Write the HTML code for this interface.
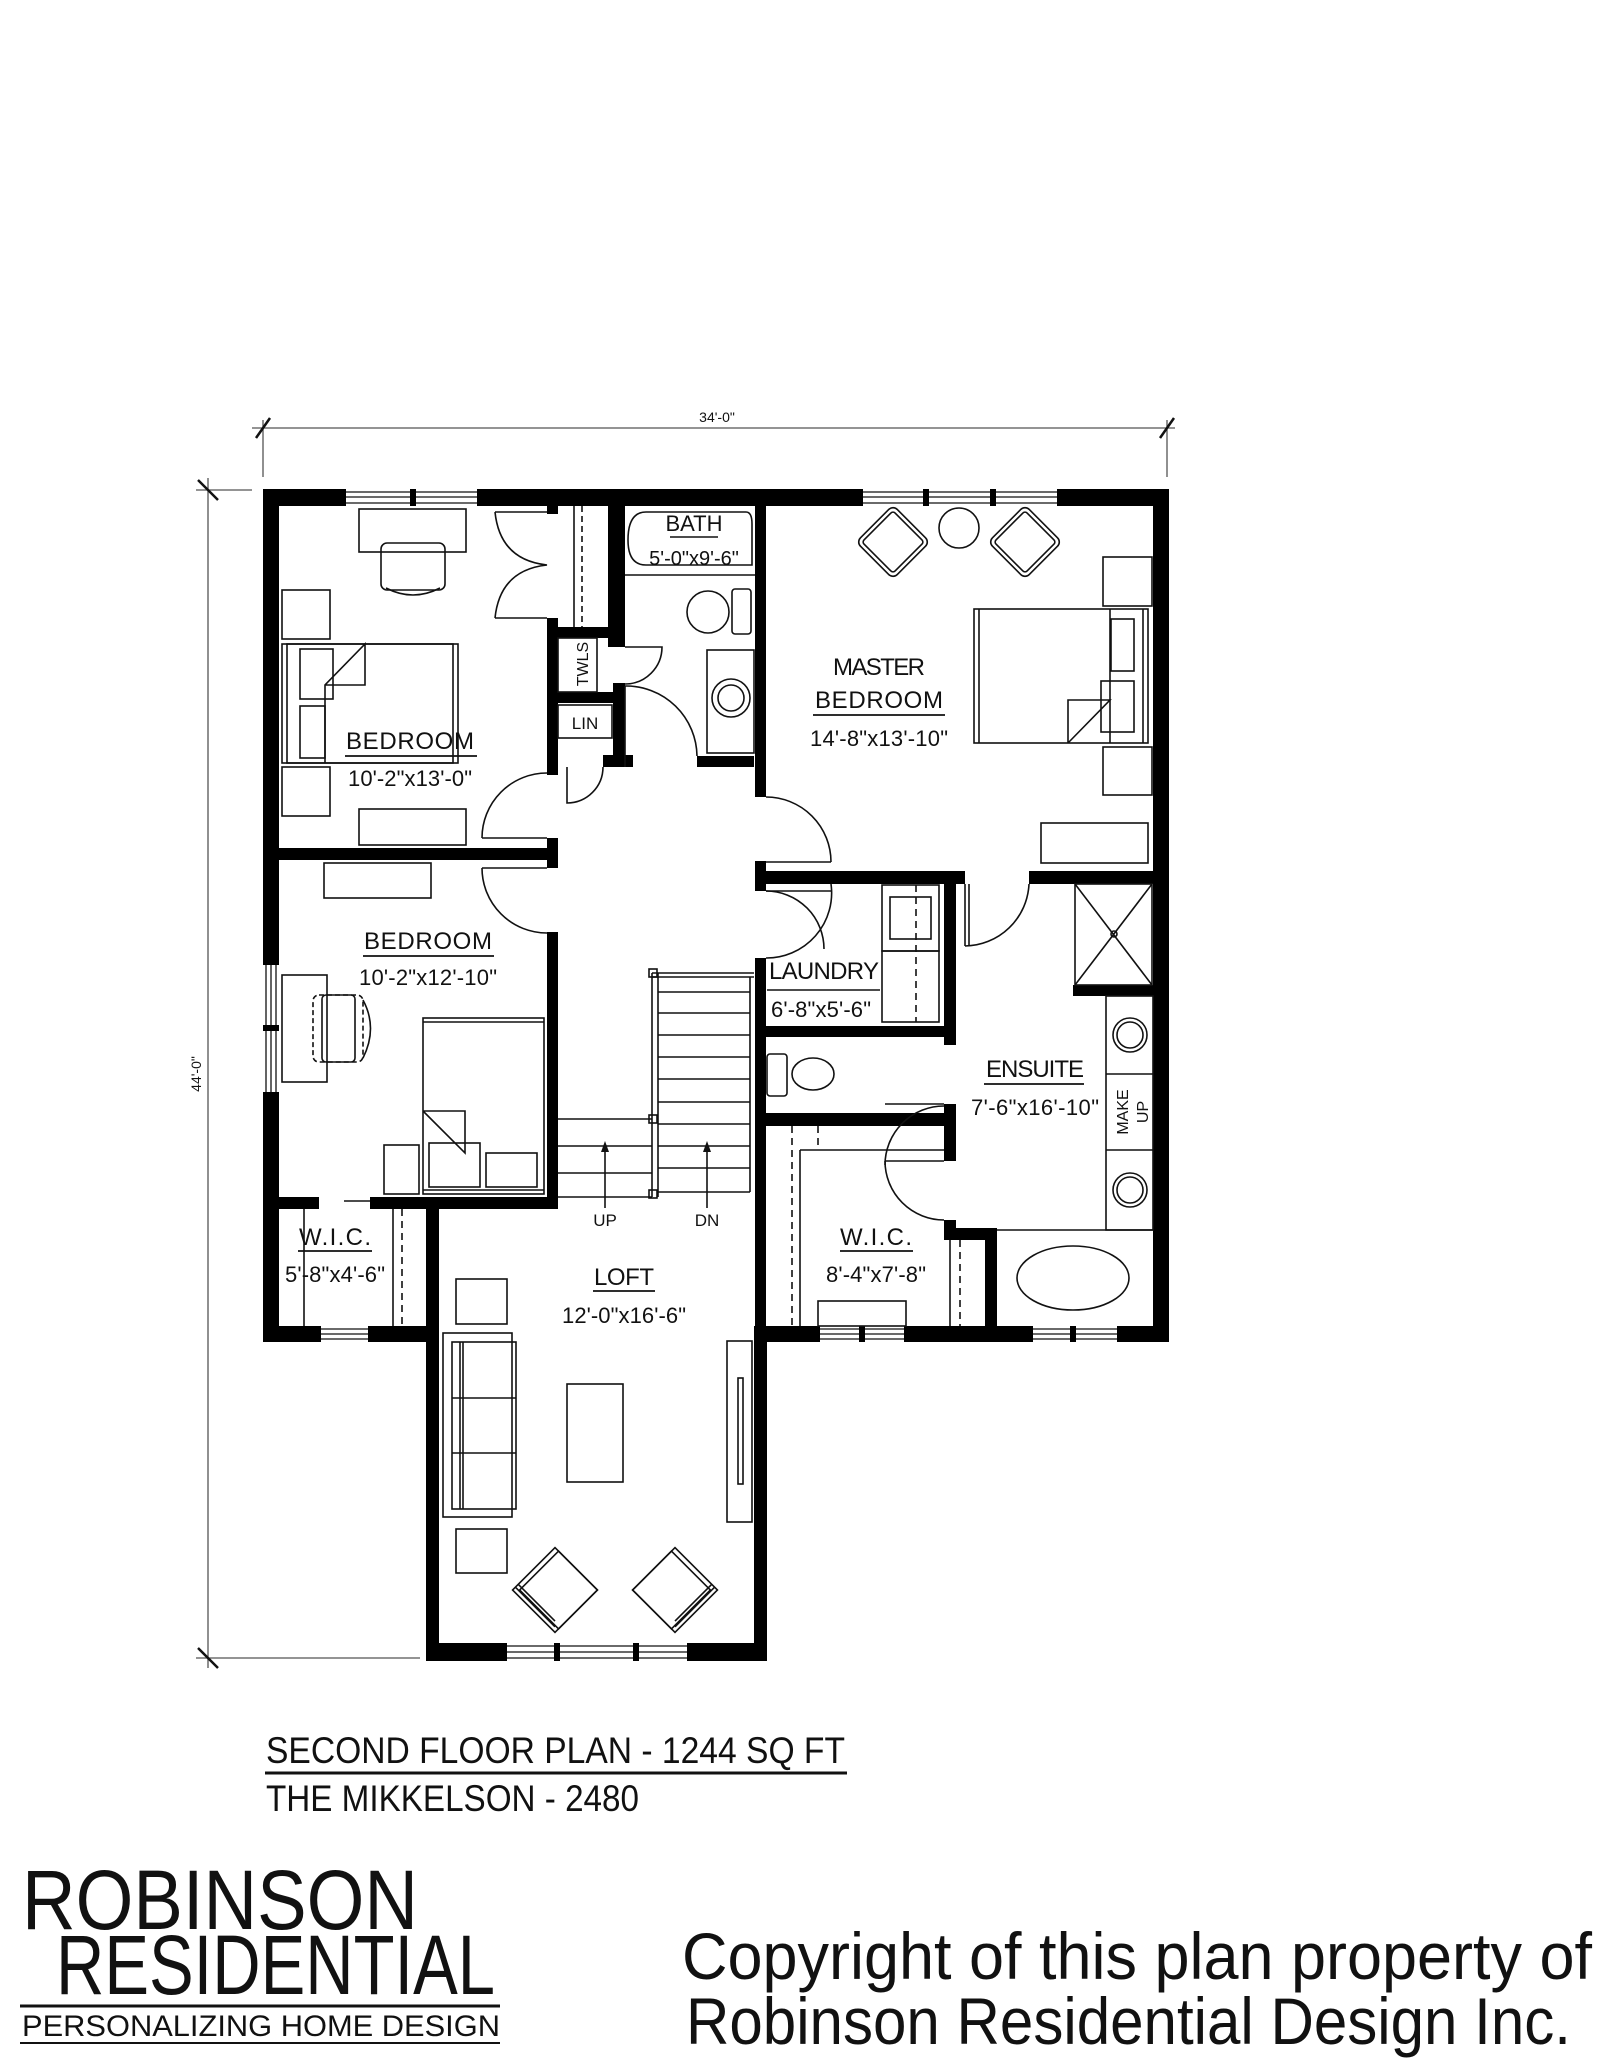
<!DOCTYPE html>
<html><head><meta charset="utf-8"><style>
html,body{margin:0;padding:0;background:#fff;}
svg{display:block;}
text{font-family:"Liberation Sans",sans-serif;fill:#111;}
</style></head><body>
<svg width="1600" height="2071" viewBox="0 0 1600 2071" xmlns="http://www.w3.org/2000/svg">
<rect width="1600" height="2071" fill="#fff"/>
<g stroke="#555" stroke-width="1.3" fill="none">
<line x1="252" y1="428" x2="1175" y2="428"/>
<line x1="263" y1="420" x2="263" y2="477"/>
<line x1="1167" y1="420" x2="1167" y2="477"/>
<line x1="208" y1="478" x2="208" y2="1668"/>
<line x1="196" y1="490" x2="252" y2="490"/>
<line x1="196" y1="1658" x2="420" y2="1658"/>
</g>
<g stroke="#111" stroke-width="2.5">
<line x1="256" y1="438" x2="270" y2="418"/><line x1="1160" y1="438" x2="1174" y2="418"/>
<line x1="198" y1="480" x2="218" y2="500"/><line x1="198" y1="1648" x2="218" y2="1668"/>
</g>
<text x="717" y="422" font-size="14" text-anchor="middle">34'-0"</text>
<text x="0" y="0" font-size="14" text-anchor="middle" transform="translate(201,1074) rotate(-90)">44'-0"</text>

<g stroke="#111" stroke-width="1.3" fill="none">
<line x1="346" y1="492" x2="477" y2="492"/><line x1="346" y1="497" x2="477" y2="497"/><line x1="346" y1="503" x2="477" y2="503"/>
<line x1="863" y1="492" x2="1057" y2="492"/><line x1="863" y1="497" x2="1057" y2="497"/><line x1="863" y1="503" x2="1057" y2="503"/>
<line x1="266" y1="965" x2="266" y2="1092"/><line x1="271" y1="965" x2="271" y2="1092"/><line x1="276" y1="965" x2="276" y2="1092"/>
<line x1="321" y1="1329" x2="369" y2="1329"/><line x1="321" y1="1334" x2="369" y2="1334"/><line x1="321" y1="1339" x2="369" y2="1339"/>
<line x1="507" y1="1646" x2="687" y2="1646"/><line x1="507" y1="1652" x2="687" y2="1652"/><line x1="507" y1="1658" x2="687" y2="1658"/>
<line x1="820" y1="1329" x2="904" y2="1329"/><line x1="820" y1="1334" x2="904" y2="1334"/><line x1="820" y1="1339" x2="904" y2="1339"/>
<line x1="1033" y1="1329" x2="1117" y2="1329"/><line x1="1033" y1="1334" x2="1117" y2="1334"/><line x1="1033" y1="1339" x2="1117" y2="1339"/>
</g>
<g fill="#000">
<rect x="410" y="489" width="6" height="17"/><rect x="923" y="489" width="6" height="17"/><rect x="990" y="489" width="6" height="17"/>
<rect x="263" y="1025" width="16" height="6"/>
<rect x="554" y="1643" width="6" height="18"/><rect x="633" y="1643" width="6" height="18"/>
<rect x="859" y="1326" width="6" height="16"/><rect x="1070" y="1326" width="6" height="16"/>
</g>

<g fill="#000">
<rect x="263" y="489" width="83" height="17"/>
<rect x="477" y="489" width="386" height="17"/>
<rect x="1057" y="489" width="112" height="17"/>
<rect x="263" y="489" width="16" height="476"/>
<rect x="263" y="1092" width="16" height="250"/>
<rect x="1153" y="489" width="16" height="853"/>
<rect x="263" y="1326" width="58" height="16"/>
<rect x="368" y="1326" width="71" height="16"/>
<rect x="426" y="1197" width="13" height="464"/>
<rect x="754" y="1326" width="13" height="335"/>
<rect x="426" y="1643" width="81" height="18"/>
<rect x="687" y="1643" width="80" height="18"/>
<rect x="754" y="1326" width="66" height="16"/>
<rect x="904" y="1326" width="129" height="16"/>
<rect x="1117" y="1326" width="52" height="16"/>
<rect x="547" y="505" width="11" height="9"/>
<rect x="547" y="618" width="11" height="157"/>
<rect x="547" y="627" width="78" height="11"/>
<rect x="608" y="505" width="17" height="142"/>
<rect x="558" y="692" width="67" height="11"/>
<rect x="613" y="683" width="12" height="84"/>
<rect x="603" y="755" width="30" height="12"/>
<rect x="547" y="838" width="11" height="30"/>
<rect x="279" y="848" width="279" height="12"/>
<rect x="547" y="932" width="11" height="277"/>
<rect x="263" y="1197" width="56" height="12"/>
<rect x="370" y="1197" width="188" height="12"/>
<rect x="427" y="1197" width="11" height="145"/>
<rect x="697" y="756" width="57" height="11"/>
<rect x="755" y="505" width="11" height="292"/>
<rect x="755" y="861" width="11" height="30"/>
<rect x="755" y="871" width="210" height="13"/>
<rect x="944" y="871" width="12" height="174"/>
<rect x="755" y="958" width="11" height="368"/>
<rect x="766" y="1026" width="190" height="11"/>
<rect x="766" y="1113" width="190" height="13"/>
<rect x="944" y="1104" width="12" height="57"/>
<rect x="944" y="1220" width="12" height="20"/>
<rect x="944" y="1228" width="53" height="12"/>
<rect x="985" y="1228" width="12" height="99"/>
<rect x="1029" y="871" width="124" height="13"/>
<rect x="1073" y="985" width="80" height="11"/>
</g>

<g stroke="#111" stroke-width="1.6" fill="none">
<rect x="359" y="509" width="107" height="43"/>
<rect x="381" y="543" width="64" height="47" rx="6"/>
<path d="M386 588 Q413 602 440 588"/>
<rect x="282" y="590" width="48" height="49"/>
<rect x="282" y="644" width="176" height="119"/>
<rect x="287" y="644" width="166" height="119"/>
<rect x="300" y="649" width="33" height="50"/><rect x="300" y="706" width="25" height="52"/>
<path d="M325 763 L325 685 L365 644 L365 685 L325 685"/>
<rect x="282" y="767" width="48" height="49"/>
<rect x="359" y="809" width="107" height="36"/>
<path d="M495 512 Q500 560 547 565 Q500 570 495 618"/>
<line x1="495" y1="512" x2="547" y2="512"/><line x1="495" y1="618" x2="547" y2="618"/>
<line x1="574" y1="506" x2="574" y2="627"/>
<line x1="582" y1="506" x2="582" y2="627" stroke-dasharray="6 4"/>
<rect x="558" y="638" width="39" height="54"/>
<rect x="558" y="705" width="54" height="33"/>
<path d="M625 647 L662 647 A37 37 0 0 1 625 684"/>
<path d="M567 767 L567 803 A36 36 0 0 0 603 767"/>
<path d="M482 838 A65 65 0 0 1 547 773"/>
<line x1="482" y1="838" x2="547" y2="838"/>
<path d="M482 868 A65 65 0 0 0 547 933"/>
<line x1="482" y1="868" x2="547" y2="868"/>
<path d="M646 512 L746 512 Q752 512 752 524 L752 565 L646 565 Q628 565 628 540 Q628 512 646 512 Z"/>
<line x1="625" y1="575" x2="755" y2="575"/>
<ellipse cx="708" cy="612" rx="21" ry="21"/>
<rect x="732" y="589" width="19" height="45" rx="3"/>
<rect x="707" y="650" width="47" height="103"/>
<circle cx="731" cy="698" r="19"/><circle cx="731" cy="698" r="13"/>
<path d="M625 686 L625 767 M625 686 A71 71 0 0 1 697 756"/>
<g transform="translate(893,542) rotate(45)"><rect x="-26" y="-26" width="52" height="52" rx="6"/><rect x="-22" y="-22" width="44" height="44" rx="3"/></g>
<g transform="translate(1025,542) rotate(45)"><rect x="-26" y="-26" width="52" height="52" rx="6"/><rect x="-22" y="-22" width="44" height="44" rx="3"/></g>
<circle cx="959" cy="528" r="20"/>
<rect x="1103" y="557" width="49" height="49"/>
<rect x="974" y="609" width="174" height="134"/>
<line x1="979" y1="609" x2="979" y2="743"/><line x1="1110" y1="609" x2="1110" y2="743"/><line x1="1143" y1="609" x2="1143" y2="743"/>
<rect x="1111" y="619" width="23" height="52"/><rect x="1101" y="681" width="33" height="51"/>
<path d="M1068 743 L1068 700 L1110 700 L1068 743"/>
<rect x="1103" y="747" width="49" height="48"/>
<rect x="1041" y="823" width="107" height="40"/>
<path d="M766 797 A65 65 0 0 1 831 862"/><line x1="766" y1="862" x2="831" y2="862"/>
<path d="M766 891 A58 58 0 0 1 824 949"/><line x1="766" y1="891" x2="831" y2="891"/>
<path d="M1029 884 A65 65 0 0 1 965 946"/><line x1="965" y1="884" x2="965" y2="946"/><line x1="969" y1="884" x2="969" y2="946"/>
<rect x="1075" y="884" width="77" height="101"/>
<line x1="1075" y1="884" x2="1152" y2="985"/><line x1="1152" y1="884" x2="1075" y2="985"/>
<circle cx="1114" cy="934" r="3"/>
<rect x="1106" y="996" width="47" height="234"/>
<line x1="1106" y1="1074" x2="1153" y2="1074"/><line x1="1106" y1="1150" x2="1153" y2="1150"/>
<circle cx="1130" cy="1035" r="17"/><circle cx="1130" cy="1035" r="13"/>
<circle cx="1130" cy="1190" r="17"/><circle cx="1130" cy="1190" r="13"/>
<line x1="997" y1="1230" x2="1153" y2="1230"/>
<ellipse cx="1073" cy="1278" rx="56" ry="32"/>
<rect x="882" y="885" width="57" height="66"/><rect x="890" y="897" width="41" height="42"/>
<rect x="882" y="951" width="57" height="71"/>
<line x1="916" y1="885" x2="916" y2="1022" stroke-dasharray="7 5"/>
<path d="M766 958 A65 65 0 0 0 831 884"/>
<rect x="767" y="1054" width="20" height="42" rx="3"/>
<ellipse cx="813" cy="1074" rx="21" ry="16"/>
<path d="M944 1106 A59 59 0 0 0 885 1165"/><line x1="885" y1="1104" x2="944" y2="1104"/>
<path d="M885 1161 A59 59 0 0 0 944 1220"/><line x1="885" y1="1161" x2="944" y2="1161"/>
<line x1="800" y1="1150" x2="944" y2="1150"/><line x1="800" y1="1150" x2="800" y2="1326"/>
<line x1="792" y1="1126" x2="792" y2="1326" stroke-dasharray="7 5"/>
<line x1="818" y1="1126" x2="818" y2="1150" stroke-dasharray="7 5"/>
<rect x="818" y="1301" width="88" height="25"/>
<line x1="950" y1="1240" x2="950" y2="1326"/>
<line x1="960" y1="1240" x2="960" y2="1326" stroke-dasharray="7 5"/>
<rect x="324" y="863" width="107" height="35"/>
<rect x="282" y="975" width="45" height="107"/>
<rect x="313" y="995" width="50" height="67" rx="6" stroke-dasharray="5 3"/>
<rect x="322" y="995" width="33" height="67" rx="4"/>
<path d="M363 1000 Q378 1028 363 1058"/>
<rect x="423" y="1018" width="121" height="176"/>
<line x1="423" y1="1022" x2="544" y2="1022"/><line x1="423" y1="1190" x2="544" y2="1190"/>
<rect x="429" y="1143" width="51" height="44"/><rect x="486" y="1153" width="51" height="34"/>
<path d="M423 1111 L465 1111 L465 1153 L423 1111"/>
<rect x="384" y="1145" width="35" height="49"/>
<line x1="304" y1="1209" x2="304" y2="1326"/>
<line x1="393" y1="1209" x2="393" y2="1326"/>
<line x1="402" y1="1209" x2="402" y2="1326" stroke-dasharray="7 5"/>
<line x1="344" y1="1201" x2="370" y2="1201"/>
<line x1="652" y1="973" x2="652" y2="1197"/><line x1="658" y1="973" x2="658" y2="1197"/>
<line x1="652" y1="973" x2="754" y2="973"/><line x1="652" y1="977" x2="754" y2="977"/>
<line x1="750" y1="977" x2="750" y2="1192"/>
<rect x="649" y="969" width="8" height="8"/><rect x="649" y="1115" width="8" height="8"/><rect x="649" y="1190" width="8" height="8"/>
<line x1="658" y1="992" x2="750" y2="992"/><line x1="658" y1="1013" x2="750" y2="1013"/><line x1="658" y1="1035" x2="750" y2="1035"/>
<line x1="658" y1="1057" x2="750" y2="1057"/><line x1="658" y1="1079" x2="750" y2="1079"/><line x1="658" y1="1102" x2="750" y2="1102"/>
<line x1="658" y1="1124" x2="750" y2="1124"/><line x1="658" y1="1146" x2="750" y2="1146"/><line x1="658" y1="1168" x2="750" y2="1168"/>
<line x1="658" y1="1192" x2="750" y2="1192"/>
<line x1="558" y1="1119" x2="652" y2="1119"/><line x1="558" y1="1146" x2="652" y2="1146"/><line x1="558" y1="1173" x2="652" y2="1173"/><line x1="558" y1="1197" x2="652" y2="1197"/>
<line x1="605" y1="1145" x2="605" y2="1208"/><line x1="707" y1="1145" x2="707" y2="1208"/>
<rect x="456" y="1279" width="51" height="45"/>
<rect x="443" y="1333" width="69" height="184"/>
<rect x="452" y="1342" width="64" height="167"/>
<line x1="460" y1="1342" x2="460" y2="1509"/><line x1="463" y1="1342" x2="463" y2="1509"/>
<line x1="452" y1="1398" x2="516" y2="1398"/><line x1="452" y1="1453" x2="516" y2="1453"/>
<rect x="456" y="1529" width="51" height="44"/>
<rect x="567" y="1384" width="56" height="98"/>
<rect x="727" y="1341" width="25" height="181"/>
<rect x="738" y="1378" width="5" height="106"/>
<g transform="translate(555,1590) rotate(45)"><rect x="-30" y="-30" width="60" height="60"/><rect x="-25" y="-30" width="55" height="55"/><line x1="-30" y1="22" x2="22" y2="22"/><line x1="-30" y1="26" x2="26" y2="26"/></g>
<g transform="translate(675,1590) rotate(-45)"><rect x="-30" y="-30" width="60" height="60"/><rect x="-30" y="-30" width="55" height="55"/><line x1="-22" y1="22" x2="30" y2="22"/><line x1="-26" y1="26" x2="30" y2="26"/></g>
</g>
<g fill="#111">
<polygon points="605,1141 601,1152 609,1152"/><polygon points="707,1141 703,1152 711,1152"/>
</g>

<g font-size="24" text-anchor="middle">
<text x="694" y="531" font-size="22">BATH</text>
<line x1="670" y1="537" x2="718" y2="537" stroke="#111" stroke-width="1.5"/>
<text x="694" y="565" font-size="20">5'-0"x9'-6"</text>
<text x="879" y="675" textLength="92">MASTER</text>
<text x="879" y="708" textLength="128">BEDROOM</text>
<line x1="813" y1="715" x2="945" y2="715" stroke="#111" stroke-width="1.8"/>
<text x="879" y="746" font-size="22" textLength="138">14'-8"x13'-10"</text>
<text x="410" y="749" textLength="128">BEDROOM</text>
<line x1="345" y1="756" x2="477" y2="756" stroke="#111" stroke-width="1.8"/>
<text x="410" y="786" font-size="22" textLength="124">10'-2"x13'-0"</text>
<text x="428" y="949" textLength="128">BEDROOM</text>
<line x1="363" y1="956" x2="494" y2="956" stroke="#111" stroke-width="1.8"/>
<text x="428" y="985" font-size="22" textLength="138">10'-2"x12'-10"</text>
<text x="824" y="979" textLength="110">LAUNDRY</text>
<line x1="767" y1="990" x2="880" y2="990" stroke="#111" stroke-width="1.5"/>
<text x="821" y="1017" font-size="22" textLength="100">6'-8"x5'-6"</text>
<text x="1035" y="1077" textLength="98">ENSUITE</text>
<line x1="984" y1="1084" x2="1084" y2="1084" stroke="#111" stroke-width="1.8"/>
<text x="1035" y="1115" font-size="22" textLength="128">7'-6"x16'-10"</text>
<text x="605" y="1226" font-size="17">UP</text>
<text x="707" y="1226" font-size="17">DN</text>
<text x="335" y="1245" textLength="72">W.I.C.</text>
<line x1="298" y1="1251" x2="372" y2="1251" stroke="#111" stroke-width="1.8"/>
<text x="335" y="1282" font-size="22" textLength="100">5'-8"x4'-6"</text>
<text x="876" y="1245" textLength="72">W.I.C.</text>
<line x1="840" y1="1251" x2="913" y2="1251" stroke="#111" stroke-width="1.8"/>
<text x="876" y="1282" font-size="22" textLength="100">8'-4"x7'-8"</text>
<text x="624" y="1285" textLength="60">LOFT</text>
<line x1="593" y1="1291" x2="655" y2="1291" stroke="#111" stroke-width="1.8"/>
<text x="624" y="1323" font-size="22" textLength="124">12'-0"x16'-6"</text>
<text x="0" y="0" font-size="16" transform="translate(588,664) rotate(-90)">TWLS</text>
<text x="585" y="729" font-size="17">LIN</text>
<text x="0" y="0" font-size="16" transform="translate(1128,1112) rotate(-90)">MAKE</text>
<text x="0" y="0" font-size="16" transform="translate(1148,1112) rotate(-90)">UP</text>
</g>

<text x="266" y="1763" font-size="37" textLength="579" lengthAdjust="spacingAndGlyphs">SECOND FLOOR PLAN - 1244 SQ FT</text>
<line x1="265" y1="1773" x2="847" y2="1773" stroke="#111" stroke-width="3"/>
<text x="266" y="1811" font-size="37" textLength="373" lengthAdjust="spacingAndGlyphs">THE MIKKELSON - 2480</text>

<text x="22" y="1929" font-size="84" textLength="396" lengthAdjust="spacingAndGlyphs">ROBINSON</text>
<text x="56" y="1994" font-size="84" textLength="439" lengthAdjust="spacingAndGlyphs">RESIDENTIAL</text>
<line x1="20" y1="2006" x2="500" y2="2006" stroke="#111" stroke-width="3"/>
<text x="22" y="2036" font-size="30" textLength="478" lengthAdjust="spacingAndGlyphs">PERSONALIZING HOME DESIGN</text>
<line x1="20" y1="2043" x2="500" y2="2043" stroke="#111" stroke-width="2"/>

<text x="682" y="1979" font-size="66" textLength="910" lengthAdjust="spacingAndGlyphs">Copyright of this plan property of</text>
<text x="686" y="2044" font-size="66" textLength="885" lengthAdjust="spacingAndGlyphs">Robinson Residential Design Inc.</text>
</svg>
</body></html>
